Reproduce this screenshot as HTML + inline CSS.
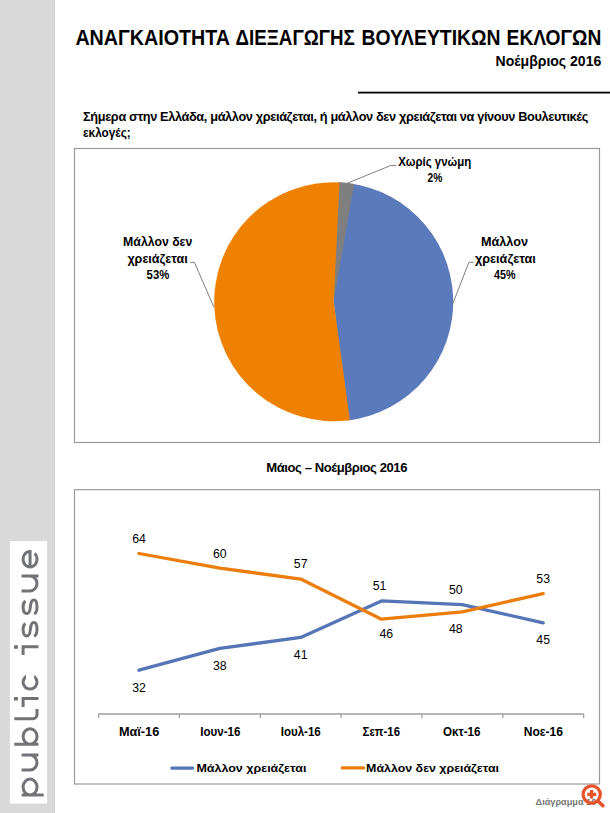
<!DOCTYPE html>
<html><head><meta charset="utf-8">
<style>
html,body{margin:0;padding:0;width:610px;height:813px;overflow:hidden;background:#fff;}
svg{display:block;}
text{font-family:"Liberation Sans",sans-serif;}
.b{font-weight:bold;}
</style></head>
<body>
<svg width="610" height="813" viewBox="0 0 610 813">
<!-- sidebar -->
<rect x="0" y="0" width="55" height="813" fill="#d9d9d9"/>
<rect x="54" y="0" width="1" height="813" fill="#d2d2d2"/>
<rect x="9.9" y="541" width="37.2" height="262.5" fill="#ffffff"/>
<g transform="translate(38.5,796.8) rotate(-90)" fill="none" stroke="#727378" stroke-width="3.0"><path d="M1.8,-8.45 A7.95,6.95 0 1 0 17.7,-8.45 A7.95,6.95 0 1 0 1.8,-8.45 M1.8,-16.9 V5.2 M26.7,-16.9 V-8.45 A7.55,6.95 0 0 0 41.8,-8.45 M41.8,-16.9 V0 M52.5,-8.45 A7.8,6.95 0 1 0 68.1,-8.45 A7.8,6.95 0 1 0 52.5,-8.45 M52.5,-24.2 V0 M78.1,-24.2 V-5.7 A4.2,4.2 0 0 0 82.3,-1.5 H87.8 M98.3,-16.9 V0 M89.9,-15.4 H99.8 M107.7,-8.45 A6.9,6.95 0 1 0 121.5,-8.45 A6.9,6.95 0 1 0 107.7,-8.45 M150.1,-16.9 V0 M141.7,-15.4 H151.6 M173.23,-13.04 C171.99,-15.12 169.78,-15.4 167.3,-15.4 C163.16,-15.4 160.81,-13.73 160.81,-11.65 C160.81,-9.14 163.16,-8.45 167.3,-8.17 C171.72,-7.75 174.2,-6.78 174.2,-4.7 C174.2,-2.47 171.44,-1.5 167.3,-1.5 C163.85,-1.5 161.5,-2.47 160.4,-4.28 M195.82,-13.04 C194.56,-15.12 192.32,-15.4 189.8,-15.4 C185.6,-15.4 183.22,-13.73 183.22,-11.65 C183.22,-9.14 185.6,-8.45 189.8,-8.17 C194.28,-7.75 196.8,-6.78 196.8,-4.7 C196.8,-2.47 194,-1.5 189.8,-1.5 C186.3,-1.5 183.92,-2.47 182.8,-4.28 M205.8,-16.9 V-8.45 A7.55,6.95 0 0 0 220.9,-8.45 M220.9,-16.9 V0 M229.9,-8.45 H245.4 A7.75,6.95 0 1 0 243.41,-3.8"/><path d="M96.3,-24.5 h3.5 v3.9 h-3.5 z M148.1,-24.5 h3.5 v3.9 h-3.5 z" fill="#727378" stroke="none"/><rect x="114.6" y="-12.5" width="10" height="8.2" fill="#fff" stroke="none"/></g>

<!-- header -->
<g class="b" font-size="21.8" fill="#000">
<text id="t1" x="75.40" y="44.8" textLength="154.70" lengthAdjust="spacingAndGlyphs">ΑΝΑΓΚΑΙΟΤΗΤΑ</text>
<text id="t2" x="235.60" y="44.8" textLength="119.20" lengthAdjust="spacingAndGlyphs">ΔΙΕΞΑΓΩΓΗΣ</text>
<text id="t3" x="361.40" y="44.8" textLength="139.20" lengthAdjust="spacingAndGlyphs">ΒΟΥΛΕΥΤΙΚΩΝ</text>
<text id="t4" x="506.60" y="44.8" textLength="94.80" lengthAdjust="spacingAndGlyphs">ΕΚΛΟΓΩΝ</text>
</g>
<text id="sub" class="b" x="495.50" y="65.8" font-size="14.2" fill="#000" textLength="105.80" lengthAdjust="spacingAndGlyphs">Νοέμβριος 2016</text>
<rect x="358" y="91.7" width="252" height="1.8" fill="#000"/>

<text id="q1" class="b" letter-spacing="-0.35" x="83.00" y="120.7" font-size="12.3" fill="#000" textLength="505.00" lengthAdjust="spacingAndGlyphs">Σήμερα στην Ελλάδα, μάλλον χρειάζεται, ή μάλλον δεν χρειάζεται να γίνουν Βουλευτικές</text>
<text id="q2" class="b" x="83.00" y="136.6" font-size="12.3" fill="#000" textLength="47.70" lengthAdjust="spacingAndGlyphs">εκλογές;</text>

<!-- pie box -->
<rect x="74.5" y="148.5" width="525" height="294" fill="none" stroke="#9a9a9a" stroke-width="1.2"/>
<g>
<path d="M333.7,301.75 L337.87,182.32 A119.5,119.5 0 0 1 347.85,420.41 Z" fill="#5a7abb"/>
<path d="M333.7,301.75 L337.87,182.32 A119.5,119.5 0 0 1 354.04,183.99 Z" fill="#7f7f7f"/>
<path d="M333.7,301.75 L349.92,420.14 A119.5,119.5 0 1 1 339.54,182.39 Z" fill="#ef8100"/>
</g>
<g fill="none" stroke="#7f7f7f" stroke-width="1">
<polyline points="346.5,183.5 390.5,165.6 396.4,165.6"/>
<polyline points="190.3,262.3 194.4,262.3 213.8,307"/>
<polyline points="473.8,262.3 468.9,262.3 452.9,303.5"/>
</g>
<g class="b" font-size="12.3" fill="#000">
<text id="l1" x="398.30" y="165.7" textLength="73.00" lengthAdjust="spacingAndGlyphs">Χωρίς γνώμη</text>
<text id="l2" x="427.60" y="181.8" textLength="14.80" lengthAdjust="spacingAndGlyphs">2%</text>
<text id="l3" x="123.10" y="246.4" textLength="69.20" lengthAdjust="spacingAndGlyphs">Μάλλον δεν</text>
<text id="l4" x="127.40" y="262.7" textLength="60.40" lengthAdjust="spacingAndGlyphs">χρειάζεται</text>
<text id="l5" x="146.60" y="279.2" textLength="22.70" lengthAdjust="spacingAndGlyphs">53%</text>
<text id="l6" x="481.00" y="246.4" textLength="47.00" lengthAdjust="spacingAndGlyphs">Μάλλον</text>
<text id="l7" x="475.00" y="262.7" textLength="60.80" lengthAdjust="spacingAndGlyphs">χρειάζεται</text>
<text id="l8" x="494.10" y="279.2" textLength="21.60" lengthAdjust="spacingAndGlyphs">45%</text>
</g>

<!-- line chart -->
<text id="ct" class="b" letter-spacing="-0.4" x="266.30" y="471.8" font-size="12.3" fill="#000" textLength="140.70" lengthAdjust="spacingAndGlyphs">Μάιος – Νοέμβριος 2016</text>
<rect x="74.5" y="489.7" width="525" height="294.3" fill="none" stroke="#9a9a9a" stroke-width="1.2"/>
<g fill="none" stroke="#9f9f9f" stroke-width="1.3">
<path d="M98.6,714 H583.6 M98.6,714 V718 M179.4,714 V718 M260.3,714 V718 M341.1,714 V718 M421.9,714 V718 M502.8,714 V718 M583.6,714 V718"/>
</g>
<g class="b" font-size="12.3" fill="#000" text-anchor="middle" lengthAdjust="spacingAndGlyphs">
<text x="139.1" y="735.8" textLength="40.3" lengthAdjust="spacingAndGlyphs">Μαϊ-16</text>
<text x="220.4" y="735.8" textLength="40.2" lengthAdjust="spacingAndGlyphs">Ιουν-16</text>
<text x="300.75" y="735.8" textLength="40.1" lengthAdjust="spacingAndGlyphs">Ιουλ-16</text>
<text x="381.3" y="735.8" textLength="37.4" lengthAdjust="spacingAndGlyphs">Σεπ-16</text>
<text x="461.7" y="735.8" textLength="37.4" lengthAdjust="spacingAndGlyphs">Οκτ-16</text>
<text x="543.4" y="735.8" textLength="39.3" lengthAdjust="spacingAndGlyphs">Νοε-16</text>
</g>
<g fill="none" stroke-width="3.3" stroke-linecap="round" stroke-linejoin="round">
<polyline stroke="#5675b6" points="139,670.2 219.8,648.4 300.7,637.4 381.5,600.9 462.3,604.6 543.2,622.8"/>
<polyline stroke="#eb7d0c" points="139,553.5 219.8,568.1 300.7,579.1 381.5,619.2 462.3,611.9 543.2,593.6"/>
</g>
<g font-size="12.3" fill="#000" text-anchor="middle">
<text x="139" y="542.5">64</text>
<text x="219.8" y="557.5">60</text>
<text x="300.7" y="567.9">57</text>
<text x="379.5" y="589.9">51</text>
<text x="455.8" y="594.4">50</text>
<text x="543.2" y="582.6">53</text>
<text x="139" y="691.5">32</text>
<text x="219.8" y="670.1">38</text>
<text x="300.7" y="659.3">41</text>
<text x="386.3" y="637.8">46</text>
<text x="455.8" y="633.1">48</text>
<text x="543.2" y="643.8">45</text>
</g>
<g>
<line x1="171.8" y1="768.1" x2="192.7" y2="768.1" stroke="#5675b6" stroke-width="3.2" stroke-linecap="round"/>
<line x1="342.2" y1="767.9" x2="363.6" y2="767.9" stroke="#eb7d0c" stroke-width="3.2" stroke-linecap="round"/>
</g>
<g class="b" font-size="11.8" fill="#000">
<text id="lg1" x="196.40" y="771.8" textLength="110.00" lengthAdjust="spacingAndGlyphs">Μάλλον χρειάζεται</text>
<text id="lg2" x="366.10" y="771.8" textLength="132.90" lengthAdjust="spacingAndGlyphs">Μάλλον δεν χρειάζεται</text>
</g>

<!-- footer -->
<text id="dg" class="b" x="535.60" y="805" font-size="9.6" fill="#787878" textLength="60.70" lengthAdjust="spacingAndGlyphs">Διάγραμμα 10</text>
<g stroke="#e8532a" fill="none">
<circle cx="591.7" cy="794.5" r="8.6" stroke-width="3.3"/>
<line x1="598" y1="801" x2="602.9" y2="805.7" stroke-width="3.6" stroke-linecap="round"/>
<path d="M587.2,794.4 H596.2 M591.6,789.9 V798.5" stroke-width="3.3"/>
</g>
</svg>
</body></html>
